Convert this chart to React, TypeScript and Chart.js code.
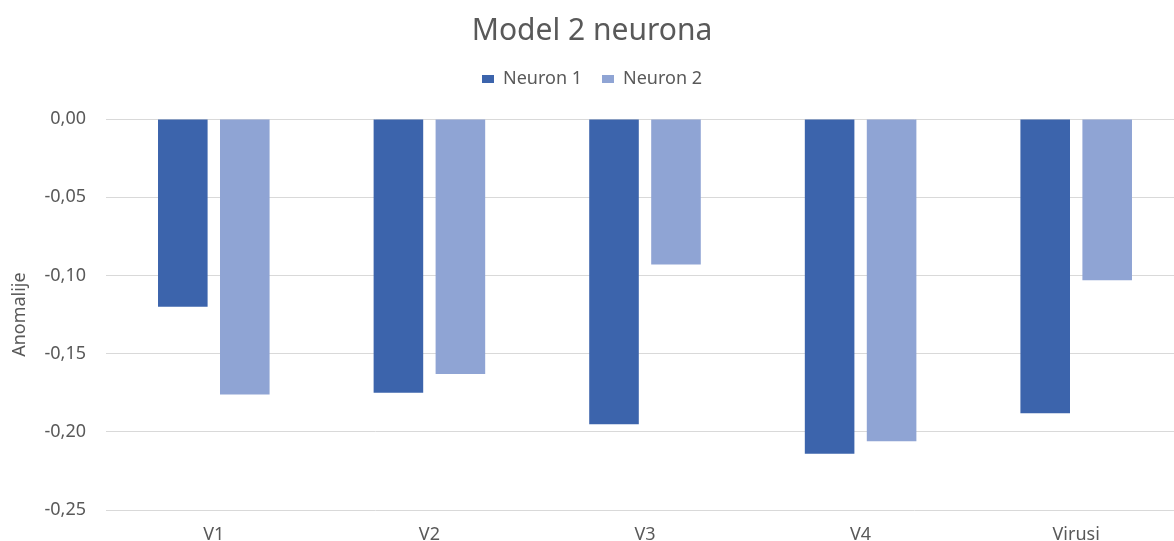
import React, { useEffect, useRef } from "react";
import { Chart, registerables } from "chart.js";

Chart.register(...registerables);

const categories = ["V1", "V2", "V3", "V4", "Virusi"];
const neuron1 = [-0.12, -0.175, -0.195, -0.214, -0.188];
const neuron2 = [-0.176, -0.163, -0.093, -0.206, -0.103];
const yTicks = [0, -0.05, -0.1, -0.15, -0.2, -0.25];

const FONT = "'Noto Sans', 'Open Sans', sans-serif";
const GRAY = "#595959";
const CANVAS_W = 1184;
const CANVAS_H = 541;

const legendHeight = {
  id: "legendHeight",
  beforeInit(chart: any) {
    const legend = chart.legend;
    if (!legend) return;
    const orig = legend.fit;
    legend.fit = function () {
      orig.call(this);
      this.height = 69;
    };
  },
};

export default function App() {
  const ref = useRef<HTMLCanvasElement | null>(null);

  useEffect(() => {
    document.body.style.margin = "0";
    const ctx = ref.current!.getContext("2d")!;
    const chart = new Chart(ctx, {
      type: "bar",
      data: {
        labels: categories,
        datasets: [
          {
            label: "Neuron 1",
            data: neuron1,
            backgroundColor: "#3C64AC",
            categoryPercentage: 0.575,
            barPercentage: 0.8,
          },
          {
            label: "Neuron 2",
            data: neuron2,
            backgroundColor: "#8FA4D4",
            categoryPercentage: 0.575,
            barPercentage: 0.8,
          },
        ],
      },
      plugins: [legendHeight],
      options: {
        animation: false,
        responsive: false,
        maintainAspectRatio: false,
        layout: { padding: 0 },
        plugins: {
          title: {
            display: true,
            text: "Model 2 neurona",
            color: GRAY,
            font: { family: FONT, size: 30, weight: "normal" },
            padding: { top: 13, bottom: 1 },
          },
          legend: {
            display: true,
            position: "top",
            labels: {
              color: GRAY,
              font: { family: FONT, size: 18 },
              boxWidth: 12,
              boxHeight: 8,
              padding: 20,
            },
          },
          tooltip: { enabled: false },
        },
        scales: {
          x: {
            grid: { display: false, drawTicks: false },
            border: { display: false },
            ticks: {
              color: GRAY,
              font: { family: FONT, size: 18 },
              padding: 14,
            },
            afterFit: (scale: any) => {
              scale.height = 30;
            },
          },
          y: {
            min: -0.25,
            max: 0,
            afterBuildTicks: (scale: any) => {
              scale.ticks = yTicks.map((v) => ({ value: v }));
            },
            grid: { color: "#D9D9D9", lineWidth: 1, drawTicks: false },
            border: { display: false },
            ticks: {
              color: GRAY,
              font: { family: FONT, size: 18 },
              padding: 20,
              callback: (v: any) => Number(v).toFixed(2).replace(".", ","),
            },
            title: {
              display: true,
              text: "Anomalije",
              color: GRAY,
              font: { family: FONT, size: 18 },
              padding: { top: 9, bottom: 0 },
            },
            afterFit: (scale: any) => {
              scale.width = 106;
            },
          },
        },
      },
    });
    return () => chart.destroy();
  }, []);

  return (
    <div style={{ position: "fixed", left: 0, top: 0, width: 1174, height: 541, overflow: "hidden" }}>
      <canvas
        ref={ref}
        width={CANVAS_W}
        height={CANVAS_H}
        style={{ width: CANVAS_W, height: CANVAS_H, display: "block" }}
      />
    </div>
  );
}
